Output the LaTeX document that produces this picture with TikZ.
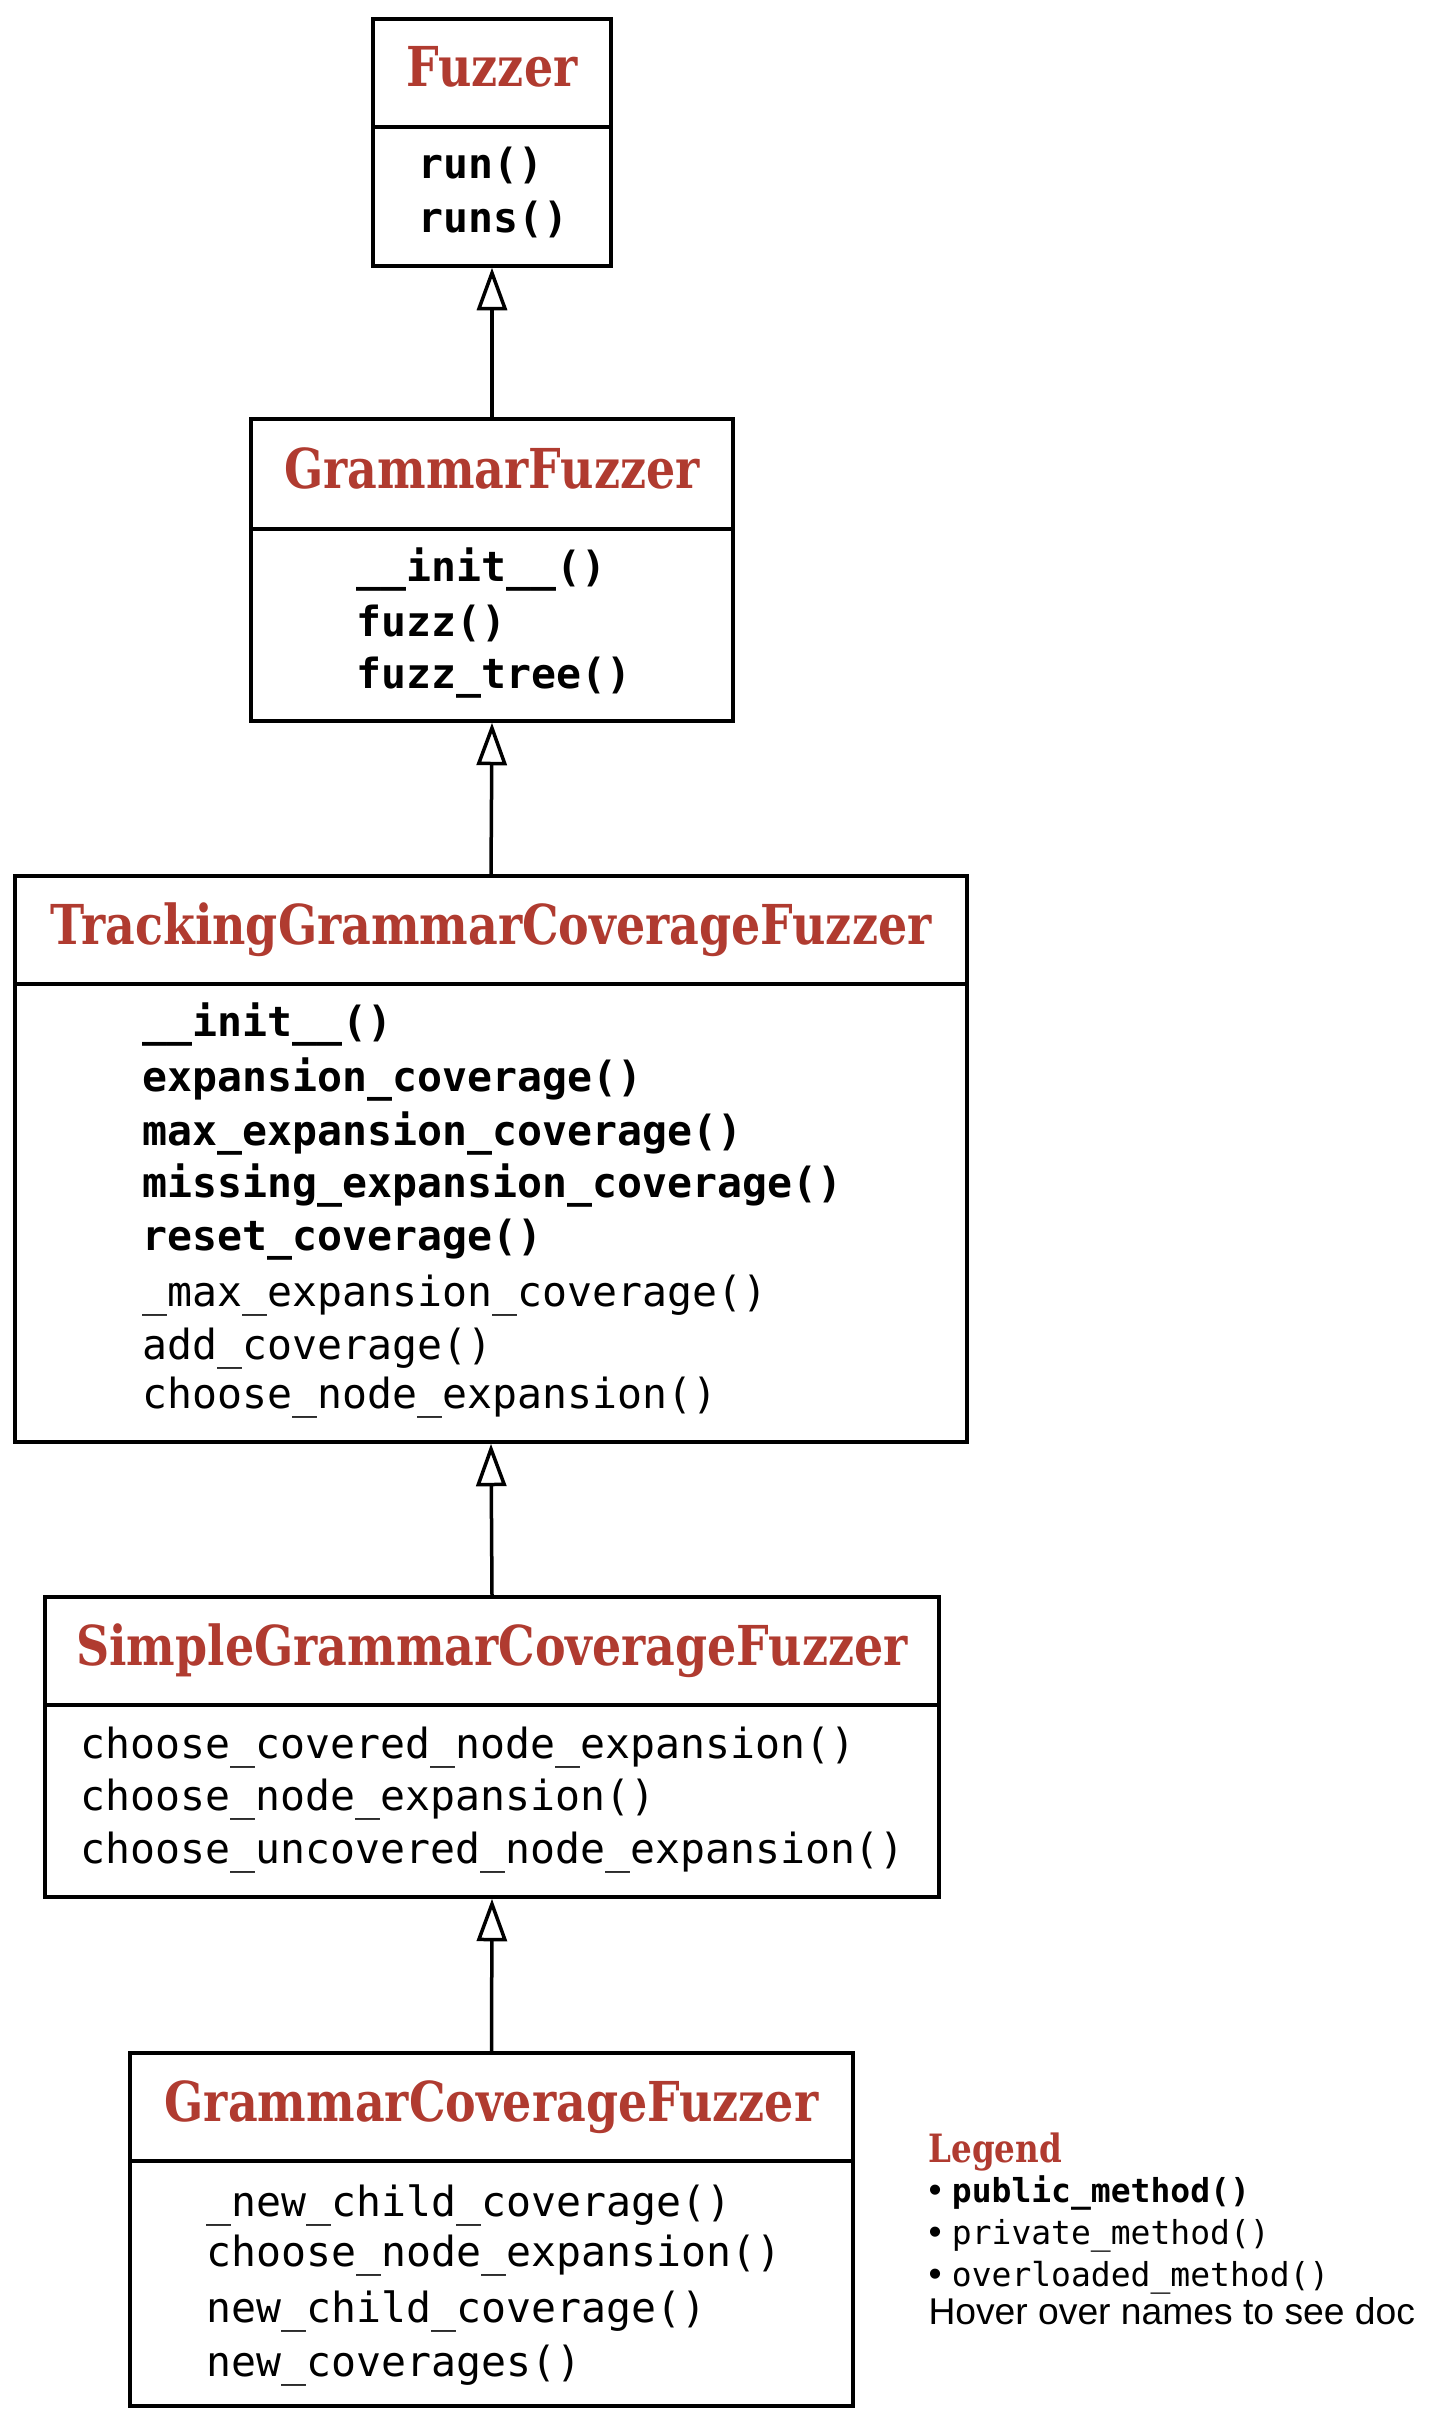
\documentclass[tikz,border=0pt]{standalone}
\usepackage{fontspec}
\setmainfont{Liberation Sans}
\newfontfamily\titlefont[FakeStretch=0.835]{DejaVu Serif}
\newfontfamily\methfont{DejaVu Sans Mono}
\usetikzlibrary{positioning, arrows.meta}
\definecolor{classred}{HTML}{B03B30}

\begin{document}
\begin{tikzpicture}[
    x=0.4pt, y=-0.4pt,
    classbox/.style={rectangle, draw, line width=1.4pt, inner sep=0pt},
    divider/.style={line width=1.4pt},
    classname/.style={font=\titlefont\bfseries\fontsize{22}{26}\selectfont,
        text=classred, anchor=base, inner sep=0pt},
    pubmeth/.style={font=\methfont\bfseries\fontsize{16.6}{20}\selectfont,
        anchor=base west, inner sep=0pt},
    privmeth/.style={font=\methfont\fontsize{16.6}{20}\selectfont,
        anchor=base west, inner sep=0pt},
    legendtitle/.style={font=\titlefont\bfseries\fontsize{15.6}{18}\selectfont,
        text=classred, anchor=base west, inner sep=0pt},
    legendtext/.style={font=\fontsize{14.9}{17}\selectfont,
        anchor=base west, inner sep=0pt},
    inherit/.style={-{Triangle[open, length=17pt, width=12pt]}, line width=1.4pt}
]
\useasboundingbox (0,0) rectangle (1442,2425);

% Fuzzer
\node[classbox, minimum width=95.2pt, minimum height=98.8pt] (fuzzer) at (492,142.5) {};
\draw[divider] (fuzzer.west |- 0,127) -- (fuzzer.east |- 0,127);
\node[classname] (fuzzername) at (492,87) {Fuzzer};
\node[pubmeth] (fuzzerm1) at (418,179) {run()};
\node[pubmeth] (fuzzerm2) at (418,232) {runs()};

% GrammarFuzzer
\node[classbox, minimum width=192.8pt, minimum height=120.8pt] (gf) at (492,570) {};
\draw[divider] (gf.west |- 0,529) -- (gf.east |- 0,529);
\node[classname] (gfname) at (492,488) {GrammarFuzzer};
\node[pubmeth] (gfm1) at (356,581) {\_\_init\_\_()};
\node[pubmeth] (gfm2) at (356,636) {fuzz()};
\node[pubmeth] (gfm3) at (356,688) {fuzz\_tree()};

% TrackingGrammarCoverageFuzzer
\node[classbox, minimum width=380.8pt, minimum height=226.4pt] (tgcf) at (491,1159) {};
\draw[divider] (tgcf.west |- 0,984) -- (tgcf.east |- 0,984);
\node[classname] (tgcfname) at (491,944) {TrackingGrammarCoverageFuzzer};
\node[pubmeth] (tgcfm1) at (142,1036) {\_\_init\_\_()};
\node[pubmeth] (tgcfm2) at (142,1091) {expansion\_coverage()};
\node[pubmeth] (tgcfm3) at (142,1145) {max\_expansion\_coverage()};
\node[pubmeth] (tgcfm4) at (142,1197) {missing\_expansion\_coverage()};
\node[pubmeth] (tgcfm5) at (142,1250) {reset\_coverage()};
\node[privmeth] (tgcfm6) at (142,1306) {\_max\_expansion\_coverage()};
\node[privmeth] (tgcfm7) at (142,1359) {add\_coverage()};
\node[privmeth] (tgcfm8) at (142,1408) {choose\_node\_expansion()};

% SimpleGrammarCoverageFuzzer
\node[classbox, minimum width=357.6pt, minimum height=120pt] (sgcf) at (492,1747) {};
\draw[divider] (sgcf.west |- 0,1705) -- (sgcf.east |- 0,1705);
\node[classname] (sgcfname) at (492,1665) {SimpleGrammarCoverageFuzzer};
\node[privmeth] (sgcfm1) at (80,1758) {choose\_covered\_node\_expansion()};
\node[privmeth] (sgcfm2) at (80,1810) {choose\_node\_expansion()};
\node[privmeth] (sgcfm3) at (80,1863) {choose\_uncovered\_node\_expansion()};

% GrammarCoverageFuzzer
\node[classbox, minimum width=289.2pt, minimum height=141.2pt] (gcf) at (491.5,2229.5) {};
\draw[divider] (gcf.west |- 0,2161) -- (gcf.east |- 0,2161);
\node[classname] (gcfname) at (491.5,2121) {GrammarCoverageFuzzer};
\node[privmeth] (gcfm1) at (206,2216) {\_new\_child\_coverage()};
\node[privmeth] (gcfm2) at (206,2266) {choose\_node\_expansion()};
\node[privmeth] (gcfm3) at (206,2322) {new\_child\_coverage()};
\node[privmeth] (gcfm4) at (206,2376) {new\_coverages()};

% inheritance
\draw[inherit] (gf.north) -- (fuzzer.south);
\draw[inherit] (tgcf.north) -- (gf.south);
\draw[inherit] (sgcf.north) -- (tgcf.south);
\draw[inherit] (gcf.north) -- (sgcf.south);

% legend
\node[legendtitle] (legend) at (928,2162) {Legend};
\node[legendtext] (legpub) at (928,2202) {• {\methfont\bfseries\fontsize{13.2}{16}\selectfont public\_method()}};
\node[legendtext] (legpriv) at (928,2244) {• {\methfont\fontsize{13.2}{16}\selectfont private\_method()}};
\node[legendtext] (legover) at (928,2286) {• {\methfont\fontsize{13.2}{16}\selectfont overloaded\_method()}};
\node[legendtext] (leghover) at (928,2324) {Hover over names to see doc};

\end{tikzpicture}
\end{document}
